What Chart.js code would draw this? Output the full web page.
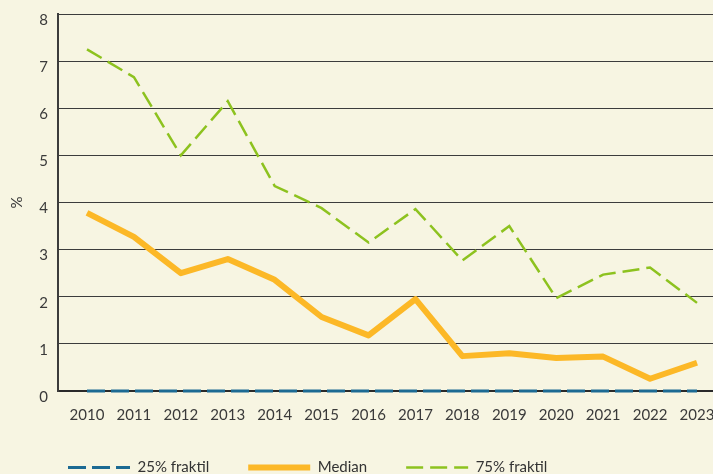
<!DOCTYPE html>
<html>
<head>
<meta charset="utf-8">
<script src="https://cdn.jsdelivr.net/npm/chart.js@4.4.1/dist/chart.umd.min.js"></script>
<style>
  html, body { margin: 0; padding: 0; background: #f7f5e2; }
  canvas { display: block; }
</style>
</head>
<body>
<canvas id="fraktilChart" width="713" height="474"></canvas>
<script>
// data
const years = [2010, 2011, 2012, 2013, 2014, 2015, 2016, 2017, 2018, 2019, 2020, 2021, 2022, 2023];
const fraktil25 = [0, 0, 0, 0, 0, 0, 0, 0, 0, 0, 0, 0, 0, 0];
const median = [3.78, 3.27, 2.5, 2.8, 2.36, 1.57, 1.18, 1.95, 0.74, 0.8, 0.7, 0.73, 0.26, 0.6];
const fraktil75 = [7.25, 6.66, 5.0, 6.15, 4.35, 3.88, 3.15, 3.86, 2.77, 3.5, 1.97, 2.47, 2.62, 1.87];
const seriesLabels = ['25% fraktil', 'Median', '75% fraktil'];

const toPoints = arr => years.map((x, i) => ({ x: x, y: arr[i] }));

Chart.defaults.font.family = 'Lato, "Open Sans", sans-serif';
Chart.defaults.font.size = 15;
Chart.defaults.color = '#3a3a3a';

// legend starts under the plot, a little lower than default
const legendPlacement = {
  id: 'legendPlacement',
  afterLayout(chart) {
    const lg = chart.legend;
    lg.left = 29;
    lg.bottom = lg.bottom + (421 - lg.top);
    lg.top = 421;
  }
};

const ctx = document.getElementById('fraktilChart').getContext('2d');

const fraktilChart = new Chart(ctx, {
  type: 'line',
  data: {
    datasets: [
      {
        label: seriesLabels[0],
        data: toPoints(fraktil25),
        borderColor: '#1c6a93',
        backgroundColor: '#1c6a93',
        borderWidth: 3,
        borderDash: [18, 6],
        pointRadius: 0,
        clip: false
      },
      {
        label: seriesLabels[1],
        data: toPoints(median),
        borderColor: '#fcb827',
        backgroundColor: '#fcb827',
        borderWidth: 6,
        borderJoinStyle: 'round',
        pointRadius: 0
      },
      {
        label: seriesLabels[2],
        data: toPoints(fraktil75),
        borderColor: '#8dc21f',
        backgroundColor: '#8dc21f',
        borderWidth: 2.5,
        borderDash: [17, 7],
        pointRadius: 0
      }
    ]
  },
  options: {
    responsive: false,
    animation: false,
    layout: { padding: { top: 14, bottom: -17 } },
    plugins: {
      legend: {
        position: 'bottom',
        align: 'start',
        labels: {
          usePointStyle: true,
          pointStyle: 'line',
          pointStyleWidth: 62,
          padding: 39,
          color: '#333',
          // point style drops the dash, so copy it back from the dataset
          generateLabels: chart => Chart.defaults.plugins.legend.labels.generateLabels(chart).map((item, i) => {
            const ds = chart.data.datasets[i];
            item.lineDash = ds.borderDash || [];
            item.lineWidth = ds.borderWidth;
            item.strokeStyle = ds.borderColor;
            return item;
          })
        }
      },
      tooltip: { enabled: false }
    },
    scales: {
      x: {
        type: 'linear',
        min: 2009.382,
        max: 2023.341,
        afterBuildTicks: s => { s.ticks = years.map(v => ({ value: v })); },
        ticks: { padding: 15, callback: v => String(v) },
        grid: { display: false, drawTicks: false },
        border: { color: '#2a2a2a', width: 2 },
        afterFit: s => { s.paddingLeft = 0; s.paddingRight = 0; s.height = 36; }
      },
      y: {
        min: 0,
        max: 8,
        ticks: { stepSize: 1, padding: 10, labelOffset: 6 },
        grid: { color: '#3c3c3c', lineWidth: 1, drawTicks: false },
        border: { color: '#3c3c3c', width: 2 },
        title: { display: true, text: '%', padding: { top: 8, bottom: 0 } },
        afterFit: s => { s.width = 58; s.paddingTop = 0; }
      }
    }
  },
  plugins: [legendPlacement]
});
</script>
</body>
</html>
